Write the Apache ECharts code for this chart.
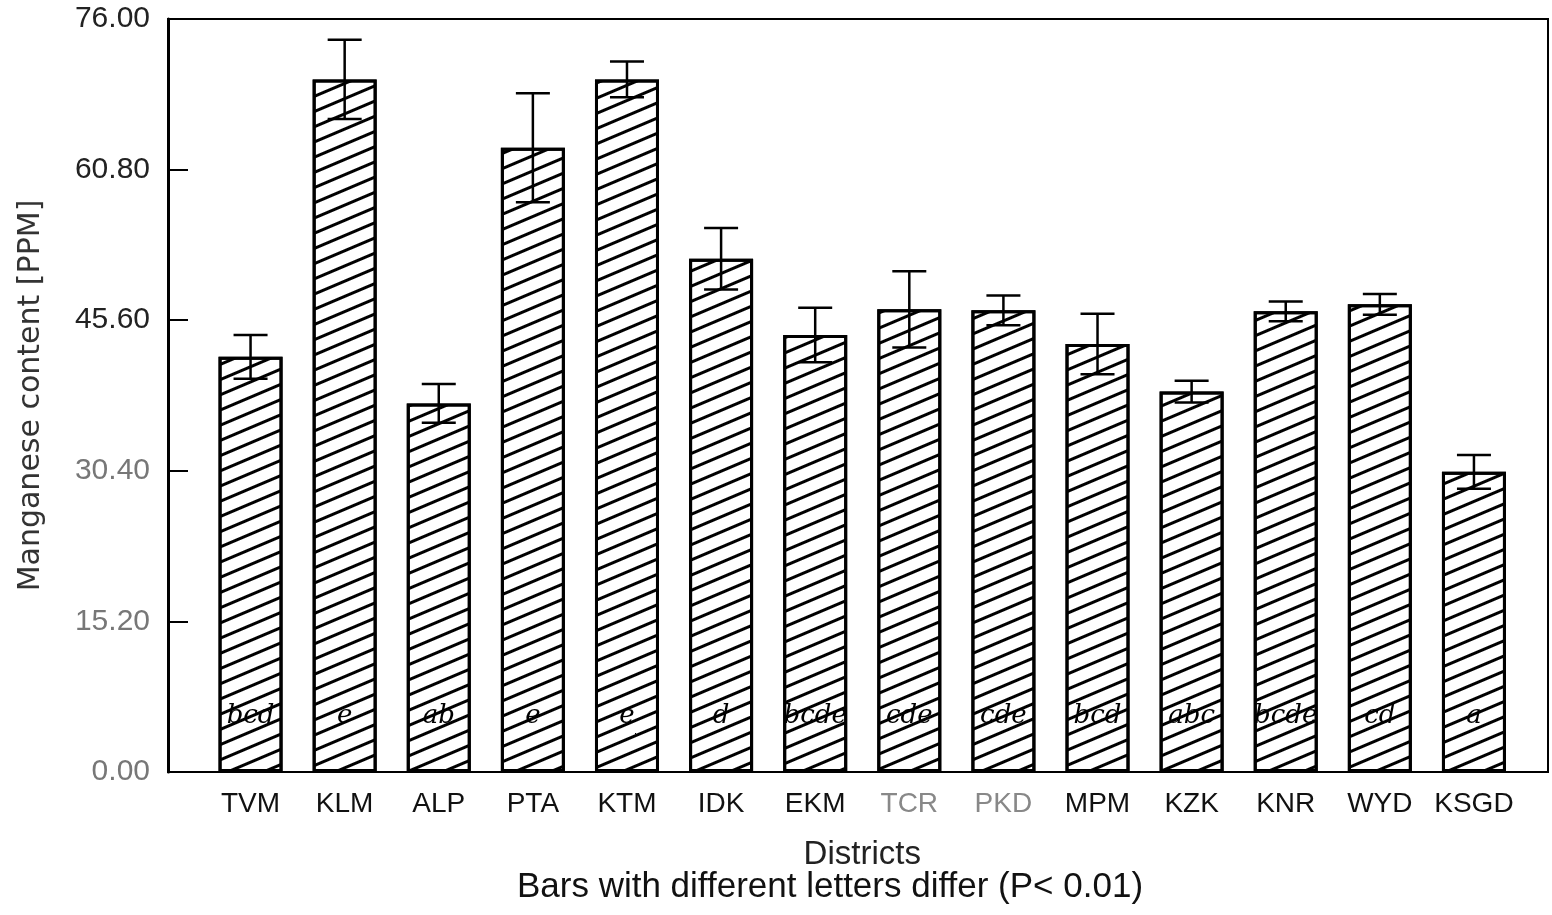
<!DOCTYPE html>
<html>
<head>
<meta charset="utf-8">
<script src="https://cdn.jsdelivr.net/npm/echarts@6/dist/echarts.min.js"></script>
<style>
html,body{margin:0;padding:0;background:#fff;}
#chart{width:1552px;height:915px;}
</style>
</head>
<body>
<div id="chart"></div>
<script>
const categories = ["TVM","KLM","ALP","PTA","KTM","IDK","EKM","TCR","PKD","MPM","KZK","KNR","WYD","KSGD"];
const meanValues = [41.9, 69.9, 37.2, 63.0, 69.9, 51.8, 44.1, 46.7, 46.6, 43.2, 38.4, 46.5, 47.2, 30.3];
const errorValues = [2.2, 4.0, 1.95, 5.5, 1.8, 3.1, 2.75, 3.85, 1.5, 3.05, 1.1, 1.0, 1.05, 1.7];
const groupLetters = ["bcd","e","ab","e","e","d","bcde","cde","cde","bcd","abc","bcde","cd","a"];
const yTicks = [0, 15.2, 30.4, 45.6, 60.8, 76];
const fadedCategories = ["TCR","PKD"];

const chart = echarts.init(document.getElementById('chart'));
const FONT = 'Liberation Sans, Arial, sans-serif';

const option = {
  animation: false,
  backgroundColor: '#fff',
  grid: [
    {left: 168, right: 4, top: 19, bottom: 143, show: true, borderColor: '#000', borderWidth: 2, backgroundColor: 'transparent'},
    {left: 203.5, right: 31, top: 19, bottom: 143}
  ],
  xAxis: [
    {type: 'value', gridIndex: 0, show: false, min: 0, max: 1},
    {
      type: 'category', gridIndex: 1, data: categories,
      axisLine: {show: false}, axisTick: {show: false},
      axisLabel: {
        interval: 0, hideOverlap: false,
        margin: 18, fontFamily: FONT, fontSize: 28,
        color: function (v) { return fadedCategories.indexOf(v) >= 0 ? '#888' : '#111'; }
      },
      name: 'Districts', nameLocation: 'middle', nameGap: 66,
      nameTextStyle: {fontFamily: FONT, fontSize: 33, color: '#222'}
    }
  ],
  yAxis: [
    {
      type: 'value', gridIndex: 0, min: yTicks[0], max: yTicks[yTicks.length - 1], interval: 15.2,
      axisLine: {show: true, lineStyle: {color: '#000', width: 3}},
      axisTick: {show: true, inside: true, length: 20, lineStyle: {color: '#000', width: 2}},
      splitLine: {show: false},
      axisLabel: {
        margin: 18, fontFamily: FONT, fontSize: 30,
        formatter: function (v) { return v.toFixed(2); },
        color: function (v) { return Number(v) >= 45 ? '#222' : '#777'; }
      },
      name: 'Manganese content [PPM]', nameLocation: 'middle', nameGap: 122,
      nameTextStyle: {fontFamily: 'DejaVu Sans, sans-serif', fontSize: 30, color: '#333'}
    },
    {type: 'value', gridIndex: 1, min: 0, max: 76, show: false, splitLine: {show: false}}
  ],
  graphic: [
    {type: 'text', x: 830, y: 887, style: {
      text: 'Bars with different letters differ (P< 0.01)', fontFamily: FONT, fontSize: 35, fill: '#111',
      textAlign: 'center', textVerticalAlign: 'middle'
    }}
  ],
  series: [
    {
      type: 'bar', xAxisIndex: 1, yAxisIndex: 1, barWidth: 64,
      data: meanValues,
      itemStyle: {
        color: '#fff', borderColor: '#000', borderWidth: 3,
        decal: {
          symbol: 'rect', symbolSize: 1, color: '#000',
          dashArrayX: [1, 0], dashArrayY: [3, 11],
          rotation: -23 * Math.PI / 180
        }
      },
      label: {
        show: true, position: 'insideBottom', distance: 43,
        formatter: function (p) { return groupLetters[p.dataIndex]; },
        fontFamily: 'DejaVu Serif, serif', fontStyle: 'italic', fontSize: 26, color: '#000'
      }
    },
    {
      type: 'custom', xAxisIndex: 1, yAxisIndex: 1, z: 5,
      data: categories.map(function (c, i) { return [i, meanValues[i], errorValues[i]]; }),
      renderItem: function (params, api) {
        const x = api.value(0), m = api.value(1), e = api.value(2);
        const top = api.coord([x, m + e]);
        const bot = api.coord([x, m - e]);
        const hw = 17;
        const st = {stroke: '#000', lineWidth: 2.5};
        return {
          type: 'group', children: [
            {type: 'line', shape: {x1: top[0], y1: top[1], x2: bot[0], y2: bot[1]}, style: st},
            {type: 'line', shape: {x1: top[0] - hw, y1: top[1], x2: top[0] + hw, y2: top[1]}, style: st},
            {type: 'line', shape: {x1: bot[0] - hw, y1: bot[1], x2: bot[0] + hw, y2: bot[1]}, style: st}
          ]
        };
      }
    }
  ]
};
chart.setOption(option);
</script>
</body>
</html>
